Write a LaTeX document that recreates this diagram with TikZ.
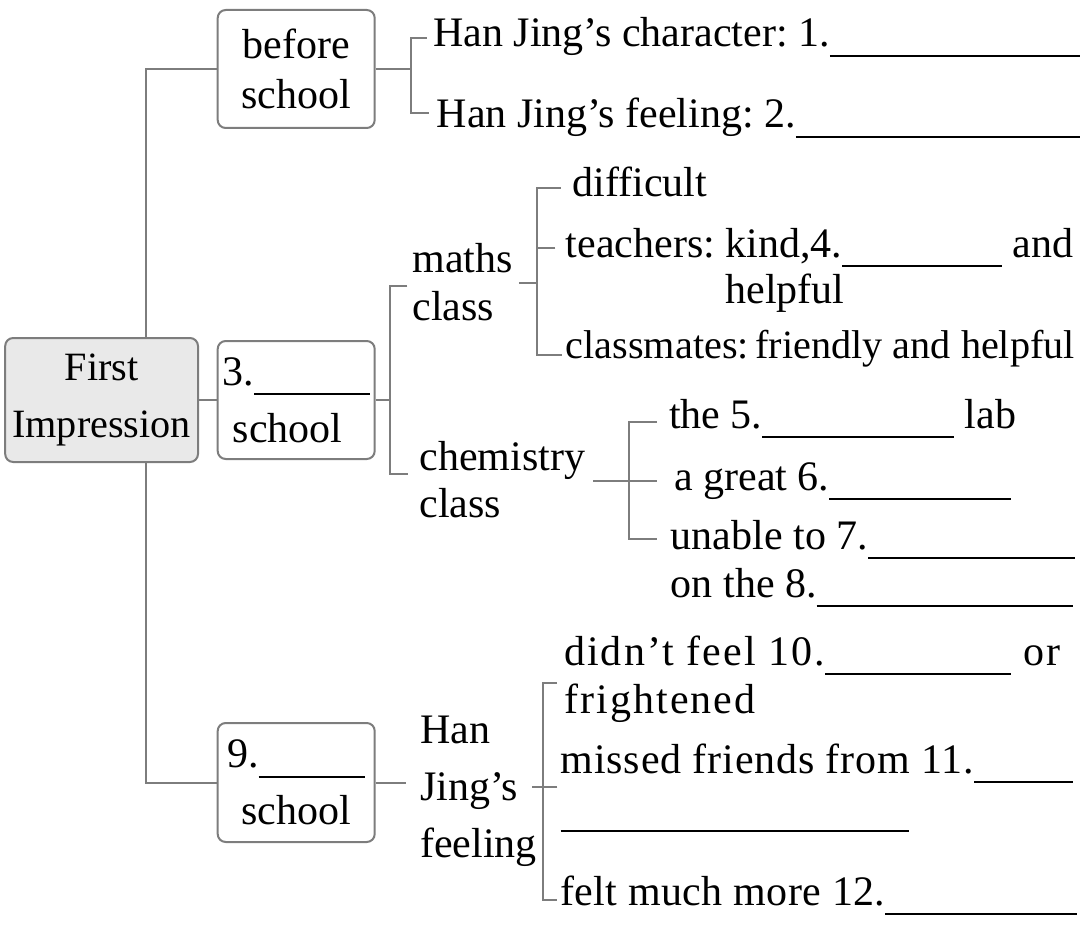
\documentclass[tikz,border=0pt]{standalone}
\usepackage{fontspec}
\setmainfont{Liberation Serif}
\frenchspacing
\definecolor{linegray}{RGB}{125,125,125}
\definecolor{rootfill}{RGB}{233,233,233}
\newcommand{\blank}[1]{\rule[-5pt]{#1}{1.1pt}}
\newcommand{\stack}[1]{\begin{tabular}[t]{@{}l@{}}#1\end{tabular}}

\begin{document}
\begin{tikzpicture}[x=0.5pt, y=-0.5pt,
    box/.style={draw=linegray, line width=1pt, rounded corners=4pt, minimum width=78.5pt,
      minimum height=59pt, inner xsep=1pt, align=center, font=\fontsize{21}{28.5}\selectfont},
    leaf/.style={anchor=base west, inner sep=0pt, outer sep=0pt, font=\fontsize{21}{24}\selectfont},
    link/.style={draw=linegray, line width=1pt}]
  \useasboundingbox (0,0) rectangle (1080,925);

  % root and the three boxes
  \node[box, fill=rootfill, minimum width=96.4pt, minimum height=62pt,
    font=\fontsize{20.1}{28.5}\selectfont] (root) at (101.6,400) {First\\Impression};
  \node[box, font=\fontsize{21}{25}\selectfont] (before) at (296.2,69) {before\\school};
  \node[box] (three) at (296.2,400) {3.\blank{57.6pt}\\school\hspace*{8.5pt}};
  \node[box, minimum height=59.5pt] (nine) at (296.2,782.5) {9.\blank{53.4pt}\\school};

  \coordinate (trunk) at (145.7,400);
  \draw[link] (trunk |- root.north) |- (before.west);
  \draw[link] (trunk |- root.south) |- (nine.west);
  \draw[link] (root.east) -- (three.west);

  % before school
  \node[leaf] (char) at (433.3,47) {Han Jing’s character: 1.\blank{126.5pt}};
  \node[leaf] (feel) at (436.7,128) {Han Jing’s feeling: 2.\blank{143pt}};
  \coordinate (bsp) at (410.5,69);
  \coordinate (char-t) at ([xshift=-3.2pt,yshift=4.5pt]char.base west);
  \coordinate (feel-t) at ([xshift=-4pt,yshift=7.5pt]feel.base west);
  \draw[link] (before.east) -- (bsp);
  \draw[link] (char-t) -| (bsp) |- (feel-t);

  % 3. school
  \node[leaf] (maths) at (412.6,272) {\stack{maths\\class}};
  \node[leaf, font=\fontsize{21}{23.5}\selectfont] (chem) at (419.5,470) {\stack{chemistry\\class}};
  \coordinate (tsp) at (390.2,400);
  \coordinate (maths-t) at ([xshift=-2.6pt,yshift=-7pt]maths.base west);
  \coordinate (chem-t) at ([xshift=-6pt,yshift=-2pt]chem.base west);
  \draw[link] (three.east) -- (tsp);
  \draw[link] (maths-t) -| (tsp) |- (chem-t);

  % maths class
  \node[leaf] (diff) at (572.7,197) {difficult};
  \node[leaf, font=\fontsize{21}{23}\selectfont] (teach) at (565.8,257)
    {teachers: \stack{kind,4.\blank{80pt} and\\helpful}};
  \node[leaf, font=\fontsize{20.1}{24}\selectfont] (mates) at (565.8,358)
    {classmates:\,friendly and helpful};
  \coordinate (msp) at (537.3,283);
  \coordinate (maths-e) at ([xshift=3pt]maths.east);
  \coordinate (diff-t) at ([xshift=-6pt,yshift=4.5pt]diff.base west);
  \coordinate (teach-t) at ([xshift=-5.2pt,yshift=4.5pt]teach.base west);
  \coordinate (mates-t) at ([xshift=-1.7pt,yshift=1.5pt]mates.base west);
  \draw[link] (maths-e |- msp) -- (msp);
  \draw[link] (diff-t) -| (msp) |- (mates-t);
  \draw[link] (teach-t) -- (teach-t -| msp);

  % chemistry class
  \node[leaf] (lab) at (669,428) {the 5.\blank{96pt} lab};
  \node[leaf] (great) at (674.3,490) {a great 6.\blank{90.7pt}};
  \node[leaf] (unable) at (670.9,549) {\stack{unable to 7.\blank{103.4pt}\\on the 8.\blank{128.3pt}}};
  \coordinate (csp) at (628.9,481);
  \coordinate (chem-e) at ([xshift=4pt]chem.east);
  \coordinate (lab-t) at ([xshift=-6pt,yshift=3pt]lab.base west);
  \coordinate (great-t) at ([xshift=-8.7pt,yshift=4.5pt]great.base west);
  \coordinate (unable-t) at ([xshift=-7pt,yshift=5pt]unable.base west);
  \draw[link] (chem-e |- csp) -- (csp);
  \draw[link] (lab-t) -| (csp) |- (unable-t);
  \draw[link] (great-t) -- (csp);

  % 9. school
  \node[leaf, font=\fontsize{21}{28.5}\selectfont] (han) at (420.2,743) {\stack{Han\\Jing’s\\feeling}};
  \node[leaf, font=\fontsize{21}{24}\selectfont\addfontfeatures{LetterSpace=5}] (didnt) at (564.1,665)
    {\stack{didn’t feel 10.\blank{93pt} or\\frightened}};
  \node[leaf, font=\fontsize{21}{24.5}\selectfont\addfontfeatures{LetterSpace=2}] (missed) at (560.7,773)
    {\stack{missed friends from 11.\blank{49.5pt}\\\blank{174pt}}};
  \node[leaf, font=\fontsize{21}{24}\selectfont\addfontfeatures{LetterSpace=1}] (felt) at (560,905)
    {felt much more 12.\blank{95.6pt}};
  \coordinate (hsp) at (542.8,787);
  \coordinate (han-e) at ([xshift=-2.4pt]han.east);
  \coordinate (didnt-t) at ([xshift=-3.5pt,yshift=-9pt]didnt.base west);
  \coordinate (missed-t) at ([xshift=-1.7pt,yshift=-7pt]missed.base west);
  \coordinate (felt-t) at ([xshift=-1.4pt,yshift=2.5pt]felt.base west);
  \draw[link] (nine.east) -- (nine.east -| 406.4,0);
  \draw[link] (han-e |- hsp) -- (hsp);
  \draw[link] (didnt-t) -| (hsp) |- (felt-t);
  \draw[link] (missed-t) -- (hsp);
\end{tikzpicture}
\end{document}
